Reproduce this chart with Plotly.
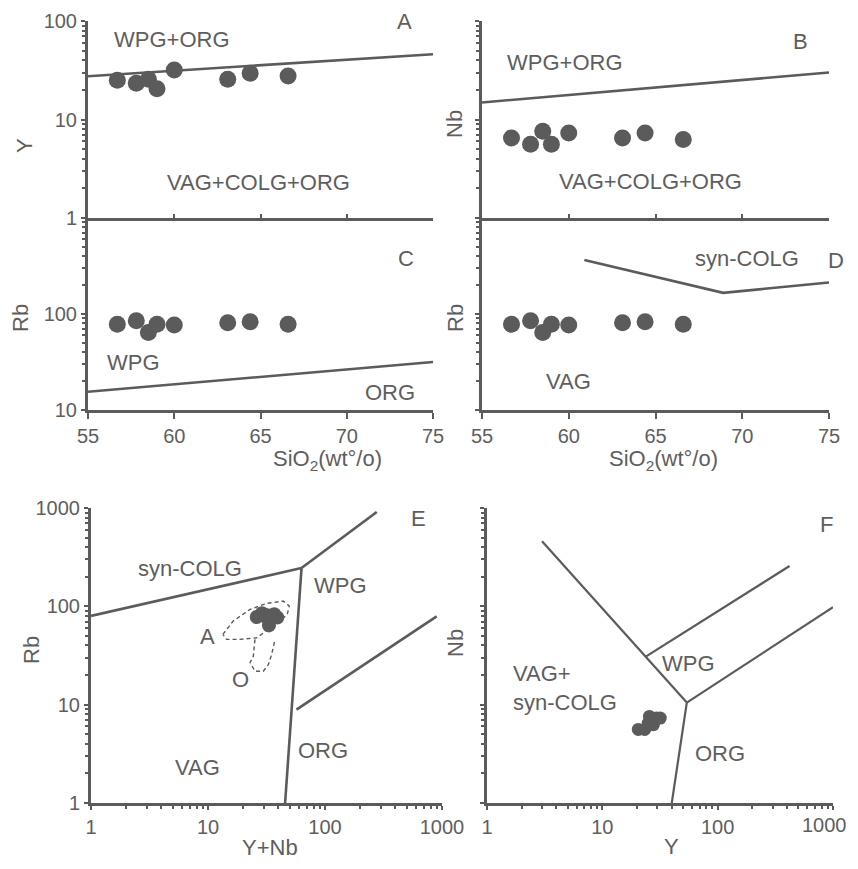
import math
import plotly.graph_objects as go

# ---------------- data ----------------
sio2 = [56.7, 57.8, 58.5, 59.0, 60.0, 63.1, 64.4, 66.6]
y_ppm = [25.0, 23.3, 25.6, 20.5, 31.8, 25.6, 29.5, 27.7]
nb_ppm = [6.5, 5.6, 7.6, 5.6, 7.3, 6.5, 7.3, 6.25]
rb_ppm = [78, 85, 64, 78, 77, 81, 83, 78]
y_plus_nb = [a + b for a, b in zip(y_ppm, nb_ppm)]

# boundaries of panels A-D (SiO2 vs element)
bA_x, bA_y = [55, 75], [27.5, 46]
bB_x, bB_y = [55, 75], [14.9, 30]
bC_x, bC_y = [55, 75], [15.5, 31.6]
bD_x, bD_y = [60.9, 68.9, 75], [365, 166, 213]

# panel E (Y+Nb vs Rb)
eSyn_x, eSyn_y = [1, 63], [80, 245]
eUp_x, eUp_y = [63, 277], [245, 910]
eVer_x, eVer_y = [63, 45.6], [245, 1]
eOrg_x, eOrg_y = [57, 900], [8.9, 79]
fieldA_x = [13.4, 16.4, 22.9, 31.7, 44.0, 49.5, 47.6, 41.2, 26.1, 18.8, 14.4, 13.4]
fieldA_y = [51.8, 70.8, 93.2, 107, 113, 101, 82.9, 70.8, 47.9, 46.1, 46.1, 51.8]
fieldO_x = [25.2, 24.4, 22.9, 25.2, 29.7, 32.8, 35.0, 37.4]
fieldO_y = [46.1, 31.1, 26.8, 21.9, 21.9, 25.6, 32.4, 46.1]

# panel F (Y vs Nb)
fA_x, fA_y = [3.0, 54], [460, 10.5]
fB_x, fB_y = [54, 40], [10.5, 1]
fC_x, fC_y = [54, 1000], [10.5, 98]
fD_x, fD_y = [24, 420], [31, 257]

log_ticks = [1, 10, 100, 1000]
log_text = ["1", "10", "100", "1000"]

# the page has an 8 px body margin, so the figure is 16 px smaller than the window
OFF = 8
W, H = 858 - 2 * OFF, 869 - 2 * OFF
INK = "#5b5b5b"
TXT = "#5e5e5e"
FONT = "Liberation Sans"

fig = go.Figure()


def px_x(p):
    return (p - OFF) / W


def px_y(p):
    return 1 - (p - OFF) / H


def add_line(x, y, xa, ya, dash="solid", width=2.6):
    fig.add_trace(go.Scatter(x=x, y=y, mode="lines", xaxis=xa, yaxis=ya,
                             line=dict(color=INK, width=width, dash=dash),
                             hoverinfo="skip", showlegend=False))


def add_pts(x, y, xa, ya, size):
    fig.add_trace(go.Scatter(x=x, y=y, mode="markers", xaxis=xa, yaxis=ya,
                             marker=dict(color=INK, size=size, line=dict(width=0)),
                             hoverinfo="skip", showlegend=False))


# A
add_line(bA_x, bA_y, "x", "y")
add_pts(sio2, y_ppm, "x", "y", 17)
# C
add_line(bC_x, bC_y, "x3", "y3")
add_pts(sio2, rb_ppm, "x3", "y3", 17)
# B
add_line(bB_x, bB_y, "x2", "y2")
add_pts(sio2, nb_ppm, "x2", "y2", 17)
# D
add_line(bD_x, bD_y, "x4", "y4")
add_pts(sio2, rb_ppm, "x4", "y4", 17)
# E
for xx, yy in [(eSyn_x, eSyn_y), (eUp_x, eUp_y), (eVer_x, eVer_y), (eOrg_x, eOrg_y)]:
    add_line(xx, yy, "x5", "y5")
add_line(fieldA_x, fieldA_y, "x5", "y5", dash="4px,3px", width=1.4)
add_line(fieldO_x, fieldO_y, "x5", "y5", dash="4px,3px", width=1.4)
add_pts(y_plus_nb, rb_ppm, "x5", "y5", 14)
# F
for xx, yy in [(fA_x, fA_y), (fB_x, fB_y), (fC_x, fC_y), (fD_x, fD_y)]:
    add_line(xx, yy, "x6", "y6", width=2.2)
add_pts(y_ppm, nb_ppm, "x6", "y6", 13)

tickfont = dict(family=FONT, size=20, color=TXT)
minor_log = dict(ticks="outside", ticklen=3, tickwidth=1.5, tickcolor=INK, dtick="D1")
common = dict(showline=True, linecolor=INK, linewidth=3, showgrid=False,
              zeroline=False, tickcolor=INK, tickwidth=2, tickfont=tickfont,
              automargin=False)

dA_x = [px_x(88), px_x(433)]
dB_x = [px_x(482), px_x(829)]
dTop = [px_y(218), px_y(21)]
dMid = [px_y(410), px_y(218)]
dE_x = [px_x(91), px_x(442)]
dF_x = [px_x(487), px_x(833)]
dBot = [px_y(803), px_y(508)]

fig.update_layout(
    width=W, height=H, margin=dict(l=0, r=0, t=0, b=0),
    paper_bgcolor="#ffffff", plot_bgcolor="rgba(0,0,0,0)",
    showlegend=False,
    # A
    xaxis=dict(domain=dA_x, range=[55, 75], anchor="y", ticks="inside", ticklen=4,
               tickvals=[60, 65, 70], showticklabels=False, **common),
    yaxis=dict(domain=dTop, type="log", range=[0, 2], anchor="x", ticks="outside",
               ticklen=4, tickvals=log_ticks[:3], ticktext=log_text[:3],
               minor=minor_log, **common),
    # B
    xaxis2=dict(domain=dB_x, range=[55, 75], anchor="y2", ticks="inside", ticklen=4,
                tickvals=[60, 65, 70], showticklabels=False, **common),
    yaxis2=dict(domain=dTop, type="log", range=[0, 2], anchor="x2", ticks="outside",
                ticklen=4, tickvals=log_ticks[:3], showticklabels=False,
                minor=minor_log, **common),
    # C
    xaxis3=dict(domain=dA_x, range=[55, 75], anchor="y3", ticks="outside", ticklen=6,
                dtick=5, tick0=55, **common),
    yaxis3=dict(domain=dMid, type="log", range=[1, 3], anchor="x3", ticks="outside",
                ticklen=4, tickvals=log_ticks[1:3], ticktext=log_text[1:3],
                minor=minor_log, **common),
    # D
    xaxis4=dict(domain=dB_x, range=[55, 75], anchor="y4", ticks="outside", ticklen=6,
                dtick=5, tick0=55, **common),
    yaxis4=dict(domain=dMid, type="log", range=[1, 3], anchor="x4", ticks="outside",
                ticklen=4, tickvals=log_ticks[1:], showticklabels=False,
                minor=minor_log, **common),
    # E
    xaxis5=dict(domain=dE_x, type="log", range=[0, 3], anchor="y5", ticks="outside",
                ticklen=4, tickvals=log_ticks, ticktext=log_text,
                minor=minor_log, **common),
    yaxis5=dict(domain=dBot, type="log", range=[0, 3], anchor="x5", ticks="outside",
                ticklen=4, tickvals=log_ticks, ticktext=log_text,
                minor=minor_log, **common),
    # F (the last label sits at the page edge and is drawn as an annotation below)
    xaxis6=dict(domain=dF_x, type="log", range=[0, 3], anchor="y6", ticks="outside",
                ticklen=4, tickvals=log_ticks, ticktext=log_text[:3] + [""],
                minor=minor_log, **common),
    yaxis6=dict(domain=dBot, type="log", range=[0, 3], anchor="x6", ticks="outside",
                ticklen=4, tickvals=log_ticks, showticklabels=False,
                minor=minor_log, **common),
)

# last tick label of F, right-aligned at the edge of the page
fig.add_annotation(text=log_text[3], x=math.log10(log_ticks[3]), xref="x6",
                   y=px_y(825), yref="paper", xanchor="right", xshift=16,
                   yanchor="middle", showarrow=False, font=tickfont)

labels = [
    # text, x px, y px, size, angle
    ("A", 404, 22, 22, 0), ("B", 800, 42, 22, 0), ("C", 406, 258, 22, 0),
    ("D", 836, 260, 22, 0), ("E", 418, 518, 22, 0), ("F", 826, 524, 22, 0),
    ("WPG+ORG", 172, 40, 22, 0), ("VAG+COLG+ORG", 258, 183, 22, 0),
    ("WPG", 133, 362, 22, 0), ("ORG", 390, 392, 22, 0),
    ("WPG+ORG", 565, 62, 22, 0), ("VAG+COLG+ORG", 650, 182, 22, 0),
    ("syn-COLG", 747, 258, 22, 0), ("VAG", 568, 381, 22, 0),
    ("syn-COLG", 190, 568, 22, 0), ("WPG", 340, 585, 22, 0),
    ("A", 207, 636, 22, 0), ("O", 241, 679, 22, 0),
    ("VAG", 197, 767, 22, 0), ("ORG", 323, 750, 22, 0),
    ("VAG+", 542, 673, 22, 0), ("syn-COLG", 565, 702, 22, 0),
    ("WPG", 688, 663, 22, 0), ("ORG", 720, 753, 22, 0),
    ("Y", 25, 146, 22, -90), ("Rb", 20, 318, 22, -90),
    ("Nb", 454, 124, 22, -90), ("Rb", 455, 318, 22, -90),
    ("Rb", 31, 650, 22, -90), ("Nb", 455, 643, 22, -90),
    ("SiO<sub>2</sub>(wt°/o)", 327, 460, 22, 0),
    ("SiO<sub>2</sub>(wt°/o)", 663, 460, 22, 0),
    ("Y+Nb", 270, 847, 22, 0), ("Y", 671, 846, 22, 0),
]
for t, x, y, s, a in labels:
    fig.add_annotation(text=t, x=px_x(x), y=px_y(y), xref="paper", yref="paper",
                       xanchor="center", yanchor="middle", showarrow=False,
                       textangle=a, font=dict(family=FONT, size=s, color=TXT))

fig.write_html("out.html")
